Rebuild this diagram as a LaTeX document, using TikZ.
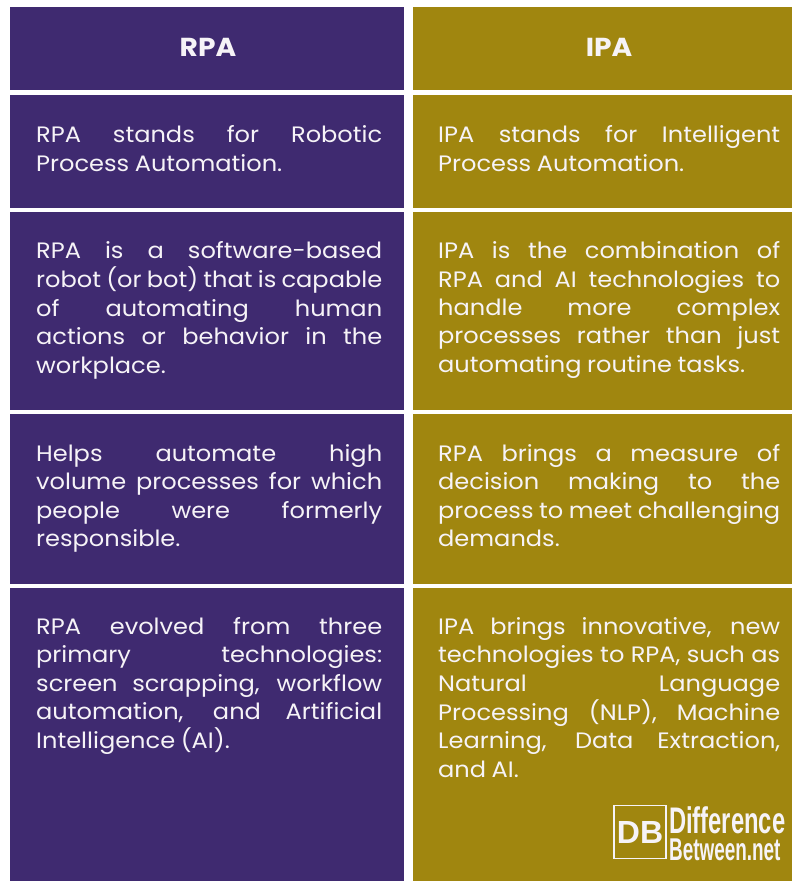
\documentclass[tikz,border=0pt]{standalone}
\usepackage{fontspec}
\setmainfont[FakeStretch=1.08]{Poppins}
\newfontfamily\logofont{Liberation Sans}
\definecolor{rpabg}{HTML}{3F2A70}
\definecolor{ipabg}{HTML}{A0860F}
\definecolor{inktxt}{HTML}{F6F3F7}
\newcommand{\lnstrut}{\rule[-8.4pt]{0pt}{28.4pt}}
\newcommand{\jl}[1]{\hbox to \linew{\lnstrut\spaceskip=.25em plus 1fil minus .08em\relax #1}}
\newcommand{\fl}[1]{\hbox{\lnstrut\spaceskip=.25em\relax #1}}
\newcommand{\lines}[1]{\vbox{\offinterlineskip #1}}
\newlength{\linew}
\tikzset{x=1pt,y=-1pt,
  rpacell/.style={fill=rpabg,draw=none,anchor=north west,inner sep=0pt,minimum width=394pt},
  ipacell/.style={fill=ipabg,draw=none,anchor=north west,inner sep=0pt,minimum width=379pt},
  head/.style={text=inktxt,font=\fontsize{26}{28}\selectfont\bfseries,inner sep=0pt},
  body/.style={text=inktxt,font=\fontsize{22.3}{28}\selectfont,anchor=north west,inner sep=0pt},
  logot/.style={text=inktxt,inner sep=0pt,text depth=0pt,anchor=base west},
}
\begin{document}
\begin{tikzpicture}
\useasboundingbox (0,0) rectangle (792,881);
\fill[white] (0,0) rectangle (792,881);
% cells
\node[rpacell,minimum height=83pt] (r0) at (10,7) {};
\node[ipacell,minimum height=83pt] (i0) at (413,7) {};
\node[rpacell,minimum height=113pt] (r1) at (10,95) {};
\node[ipacell,minimum height=113pt] (i1) at (413,95) {};
\node[rpacell,minimum height=198pt] (r2) at (10,212) {};
\node[ipacell,minimum height=198pt] (i2) at (413,212) {};
\node[rpacell,minimum height=170pt] (r3) at (10,414) {};
\node[ipacell,minimum height=170pt] (i3) at (413,414) {};
\node[rpacell,minimum height=293pt] (r4) at (10,588) {};
\node[ipacell,minimum height=293pt] (i4) at (413,588) {};
% headers
\node[head] (hr) at (208,47) {RPA};
\node[head] (hi) at (609,47) {IPA};
% body text
\setlength{\linew}{346pt}
\node[body] (tr1) at (36,122.5) {\lines{\jl{RPA stands for Robotic}\fl{Process Automation.}}};
\node[body] (tr2) at (36,238.5) {\lines{\jl{RPA is a software-based}\jl{robot (or bot) that is capable}\jl{of automating human}\jl{actions or behavior in the}\fl{workplace.}}};
\node[body] (tr3) at (36,441) {\lines{\jl{Helps automate high}\jl{volume processes for which}\jl{people were formerly}\fl{responsible.}}};
\node[body] (tr4) at (36,614) {\lines{\jl{RPA evolved from three}\jl{primary technologies:}\jl{screen scrapping, workflow}\jl{automation, and Artificial}\fl{Intelligence (AI).}}};
\setlength{\linew}{342pt}
\node[body] (ti1) at (438,122.5) {\lines{\jl{IPA stands for Intelligent}\fl{Process Automation.}}};
\node[body] (ti2) at (438,238.5) {\lines{\jl{IPA is the combination of}\jl{RPA and AI technologies to}\jl{handle more complex}\jl{processes rather than just}\fl{automating routine tasks.}}};
\node[body] (ti3) at (438,441) {\lines{\jl{RPA brings a measure of}\jl{decision making to the}\jl{process to meet challenging}\fl{demands.}}};
\node[body] (ti4) at (438,614) {\lines{\jl{IPA brings innovative, new}\jl{technologies to RPA, such as}\jl{Natural Language}\jl{Processing (NLP), Machine}\jl{Learning, Data Extraction,}\fl{and AI.}}};
% logo
\node[draw=inktxt,line width=1.8pt,minimum width=52pt,minimum height=53pt,inner sep=0pt] (lbox) at (640,832) {};
\node[text=inktxt,inner sep=0pt,font=\logofont\bfseries\fontsize{32}{33}\selectfont] (ldb) at (lbox.center) {DB};
\node[logot,font=\logofont\bfseries\fontsize{25}{26}\selectfont,xscale=.95,yscale=1.48] (ldiff) at (669,833) {Difference};
\node[logot,font=\logofont\bfseries\fontsize{21}{22}\selectfont,xscale=.9,yscale=1.5] (lnet) at (669,860) {Between.net};
\end{tikzpicture}
\end{document}
